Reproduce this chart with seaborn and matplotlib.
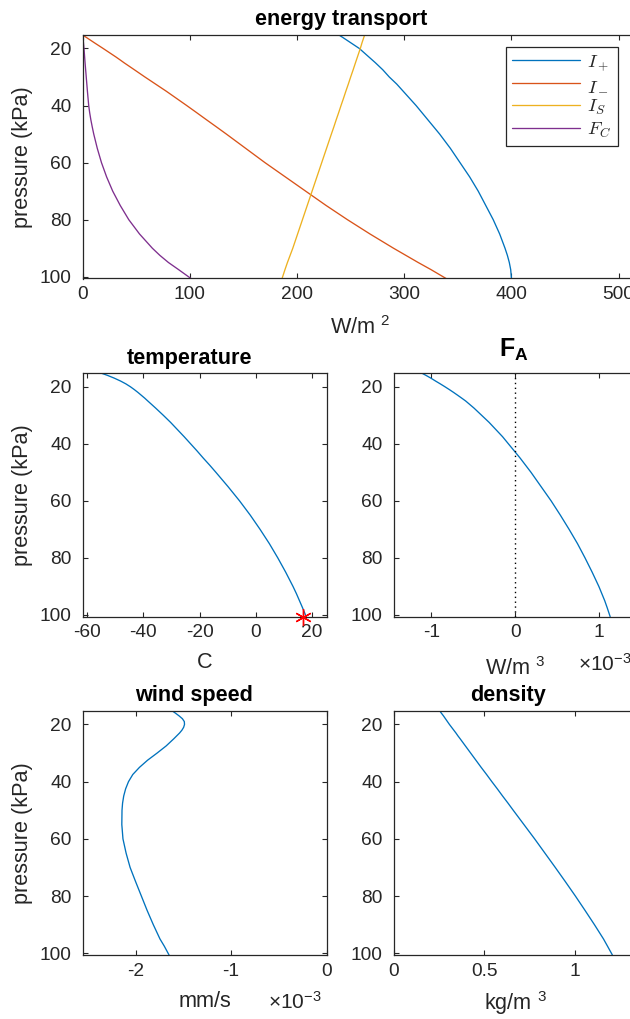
import matplotlib
matplotlib.use("Agg")
import matplotlib.pyplot as plt
from matplotlib.lines import Line2D
from matplotlib.ticker import FixedLocator, FuncFormatter
import pandas as pd
import seaborn as sns

# ---------------- data ----------------
pressure = [15.3, 16, 17, 18, 19, 20, 21, 22, 23, 24, 25, 27.5, 30, 32.5, 35, 37.5, 40, 42.5, 45, 47.5,
            50, 55, 60, 65, 70, 75, 80, 85, 90, 92.5, 95, 97.5, 100.6]

I_plus = [239, 242, 246, 250, 254, 258, 261, 264, 267, 270, 273, 280, 286, 293, 299, 305, 311, 316.5, 322, 327.5,
          333, 343, 352, 361, 369, 376, 383, 389, 394, 396.2, 398, 399.3, 400]
I_minus = [0, 2.8, 6.8, 10.8, 14.9, 19, 23, 27, 31, 34.8, 38.5, 48.3, 58, 68, 78, 87.5, 97, 106.3, 115.5, 124.8,
           134, 152, 170, 189, 208, 227, 247, 268, 290, 301.5, 313, 325, 339]
I_S = [263, 262.4, 261.5, 260.6, 259.8, 259, 258.1, 257.2, 256.3, 255.4, 254.5, 252.3, 250, 247.8, 245.5, 243.3,
       241, 238.8, 236.5, 234.3, 232, 227.5, 223, 218.5, 214, 209.5, 205, 200.5, 196, 193.5, 191, 188.7, 186]
F_C = [0, 0.2, 0.45, 0.7, 0.95, 1.2, 1.4, 1.6, 1.8, 2.0, 2.2, 2.75, 3.3, 3.85, 4.4, 5.0, 5.6, 6.5, 7.6, 8.9,
       10.3, 13.6, 17.5, 22.3, 28, 35, 43, 53, 65, 72, 80, 89.5, 101]

temperature = [-54.8, -52.8, -50.3, -48.1, -46.2, -44.6, -43.2, -41.9, -40.7, -39.5, -38.4, -35.6, -32.9, -30.3,
               -27.9, -25.5, -23.2, -20.9, -18.7, -16.4, -14.2, -9.9, -5.8, -2.0, 1.5, 4.8, 7.8, 10.6, 13.2,
               14.4, 15.5, 16.6, 17.9]
surface_T = 16.8
surface_p = 100.8

F_A = [-1.11e-3, -1.065e-3, -1.005e-3, -0.95e-3, -0.893e-3, -0.838e-3, -0.785e-3, -0.734e-3, -0.685e-3,
       -0.637e-3, -0.59e-3, -0.49e-3, -0.40e-3, -0.31e-3, -0.23e-3, -0.15e-3, -0.08e-3, -0.01e-3, 0.06e-3,
       0.125e-3, 0.19e-3, 0.31e-3, 0.43e-3, 0.54e-3, 0.645e-3, 0.745e-3, 0.835e-3, 0.92e-3, 1.0e-3,
       1.035e-3, 1.07e-3, 1.10e-3, 1.135e-3]

wind = [-1.615e-3, -1.585e-3, -1.545e-3, -1.51e-3, -1.49e-3, -1.488e-3, -1.497e-3, -1.515e-3, -1.54e-3,
        -1.57e-3, -1.60e-3, -1.68e-3, -1.775e-3, -1.875e-3, -1.96e-3, -2.03e-3, -2.075e-3, -2.105e-3,
        -2.125e-3, -2.137e-3, -2.143e-3, -2.145e-3, -2.133e-3, -2.10e-3, -2.058e-3, -2.0e-3, -1.94e-3,
        -1.88e-3, -1.815e-3, -1.78e-3, -1.745e-3, -1.70e-3, -1.65e-3]

density = [0.255, 0.263, 0.275, 0.286, 0.297, 0.308, 0.320, 0.332, 0.344, 0.355, 0.367, 0.396, 0.425, 0.454,
           0.483, 0.513, 0.542, 0.572, 0.601, 0.631, 0.66, 0.719, 0.778, 0.835, 0.892, 0.948, 1.003, 1.056,
           1.108, 1.133, 1.158, 1.18, 1.207]

series_names = ["I+", "I-", "IS", "FC"]
legend_labels = [r"$I_+$", r"$I_-$", r"$I_S$", r"$F_C$"]
colors = ["#0072BD", "#D95319", "#EDB120", "#7E2F8E"]

p_ticks = [20, 40, 60, 80, 100]

# ---------------- style ----------------
sns.set_style("ticks")
dark = "#262626"
plt.rcParams.update({
    "font.family": ["Liberation Sans", "DejaVu Sans"],
    "mathtext.fontset": "custom",
    "mathtext.rm": "Liberation Sans",
    "mathtext.it": "Liberation Sans:italic",
    "mathtext.bf": "Liberation Sans:bold",
    "axes.unicode_minus": False,
    "xtick.direction": "in", "ytick.direction": "in",
    "xtick.top": True, "ytick.right": True,
    "xtick.bottom": True, "ytick.left": True,
    "axes.edgecolor": dark, "axes.linewidth": 0.9,
    "xtick.color": dark, "ytick.color": dark,
    "xtick.labelcolor": dark, "ytick.labelcolor": dark,
    "xtick.major.size": 3.5, "ytick.major.size": 3.5,
    "xtick.major.width": 0.8, "ytick.major.width": 0.8,
    "xtick.major.pad": 5.5, "ytick.major.pad": 8,
    "xtick.labelsize": 13.8, "ytick.labelsize": 13.8,
    "axes.labelsize": 15.6, "axes.labelcolor": dark,
    "axes.titlesize": 15.6, "axes.titleweight": "bold",
})

W, H = 630, 1019
fig = plt.figure(figsize=(W / 100, H / 100), dpi=100)


def add_ax(l, t, r, b):
    return fig.add_axes([l / W, 1 - b / H, (r - l) / W, (b - t) / H])


ax_top = add_ax(82.7, 35, 637.4, 278.5)
ax_T = add_ax(82.5, 373.3, 326.5, 616.7)
ax_FA = add_ax(393.6, 373.3, 637.4, 616.7)
ax_w = add_ax(82.5, 711, 326.5, 955)
ax_rho = add_ax(393.6, 711, 637.4, 955)

lw = 0.95

# energy transport
df = pd.DataFrame({
    "W": I_plus + I_minus + I_S + F_C,
    "p": pressure * 4,
    "series": sum([[n] * len(pressure) for n in series_names], []),
})
sns.lineplot(data=df, x="W", y="p", hue="series", palette=dict(zip(series_names, colors)),
             sort=False, estimator=None, legend=False, lw=lw, ax=ax_top)
handles = [Line2D([], [], color=c, lw=lw) for c in colors]
leg = ax_top.legend(handles, legend_labels, loc="upper right",
                    bbox_to_anchor=(618 / W, 1 - 47 / H), bbox_transform=fig.transFigure,
                    borderaxespad=0, fancybox=False, framealpha=1, edgecolor=dark,
                    fontsize=13.5, handlelength=3.6, handletextpad=0.42, labelspacing=0.2,
                    borderpad=0.35)
leg.get_frame().set_linewidth(0.9)
for t in leg.get_texts():
    t.set_math_fontfamily("cm")
ax_top.set_xlim(0, 517.5)
ax_top.xaxis.set_major_locator(FixedLocator([0, 100, 200, 300, 400, 500]))

# temperature
sns.lineplot(x=temperature, y=pressure, sort=False, estimator=None, color=colors[0], lw=lw, ax=ax_T)
ax_T.plot([surface_T], [surface_p], marker=(6, 2, 0), ms=12, mew=1.0, color="red", ls="none",
          clip_on=False, zorder=5)
ax_T.set_xlim(-61.6, 25.1)
ax_T.xaxis.set_major_locator(FixedLocator([-60, -40, -20, 0, 20]))

# F_A
sns.lineplot(x=F_A, y=pressure, sort=False, estimator=None, color=colors[0], lw=lw, ax=ax_FA)
ax_FA.axvline(0, color="k", ls=(0, (1, 2.5)), lw=1.0)
ax_FA.set_xlim(-1.45e-3, 1.46e-3)
ax_FA.xaxis.set_major_locator(FixedLocator([-1e-3, 0, 1e-3]))

# wind speed
sns.lineplot(x=wind, y=pressure, sort=False, estimator=None, color=colors[0], lw=lw, ax=ax_w)
ax_w.set_xlim(-2.557e-3, 0.0)
ax_w.xaxis.set_major_locator(FixedLocator([-2e-3, -1e-3, 0]))

# density
sns.lineplot(x=density, y=pressure, sort=False, estimator=None, color=colors[0], lw=lw, ax=ax_rho)
ax_rho.set_xlim(0, 1.345)
ax_rho.xaxis.set_major_locator(FixedLocator([0, 0.5, 1]))

milli = FuncFormatter(lambda v, pos: f"{v * 1e3:g}")
ax_FA.xaxis.set_major_formatter(milli)
ax_w.xaxis.set_major_formatter(milli)
gfmt = FuncFormatter(lambda v, pos: f"{v:g}")
for a in (ax_top, ax_T, ax_rho):
    a.xaxis.set_major_formatter(gfmt)

axes_all = [ax_top, ax_T, ax_FA, ax_w, ax_rho]
for a in axes_all:
    a.set_ylim(100.6, 15.3)
    a.yaxis.set_major_locator(FixedLocator(p_ticks))
    a.yaxis.set_major_formatter(gfmt)
    for s in a.spines.values():
        s.set_visible(True)
        s.set_color(dark)
    a.set_xlabel("")
    a.set_ylabel("")

# y labels
for a in (ax_top, ax_T, ax_w):
    a.set_ylabel("pressure (kPa)")
ax_top.yaxis.set_label_coords(-(82.7 - 33) / 554.7, 0.5)
ax_T.yaxis.set_label_coords(-(82.5 - 33) / 244, 0.5)
ax_w.yaxis.set_label_coords(-(82.5 - 33) / 244, 0.5)

# x labels (baseline positioned)
xl = [
    (ax_top, "W/m $^{2}$", 334, 278.5, 243.5),
    (ax_T, "C", 668, 616.7, 243.4),
    (ax_FA, "W/m $^{3}$", 675, 616.7, 243.4),
    (ax_w, "mm/s", 1007, 955, 244),
    (ax_rho, "kg/m $^{3}$", 1010, 955, 244),
]
for a, txt, base, bot, h in xl:
    a.set_xlabel(txt)
    a.xaxis.label.set_va("baseline")
    a.xaxis.set_label_coords(0.5, -(base - bot) / h)

# exponent markers
for a, yc, bot, h in ((ax_FA, 664, 616.7, 243.4), (ax_w, 1001.7, 955, 244)):
    a.text(1 - 59 / 244, -(yc - bot) / h, r"$\times$10$^{-3}$", transform=a.transAxes,
           ha="left", va="center", fontsize=15, color=dark)

# titles
titles = [
    (ax_top, "energy transport", (341.5 - 82.7) / 554.7, 7, 15.6),
    (ax_T, "temperature", (189.7 - 82.5) / 244, 7, 15.6),
    (ax_FA, r"$\mathbf{F}_{\mathbf{A}}$", (513.7 - 393.6) / 243.8, 12, 18),
    (ax_w, "wind speed", (194 - 82.5) / 244, 7, 15.6),
    (ax_rho, "density", (507.5 - 393.6) / 243.8, 7, 15.6),
]
for a, txt, xf, pad, fs in titles:
    a.set_title(txt, x=xf, pad=pad, color="black", fontsize=fs)

fig.savefig("out.png", dpi=100)
